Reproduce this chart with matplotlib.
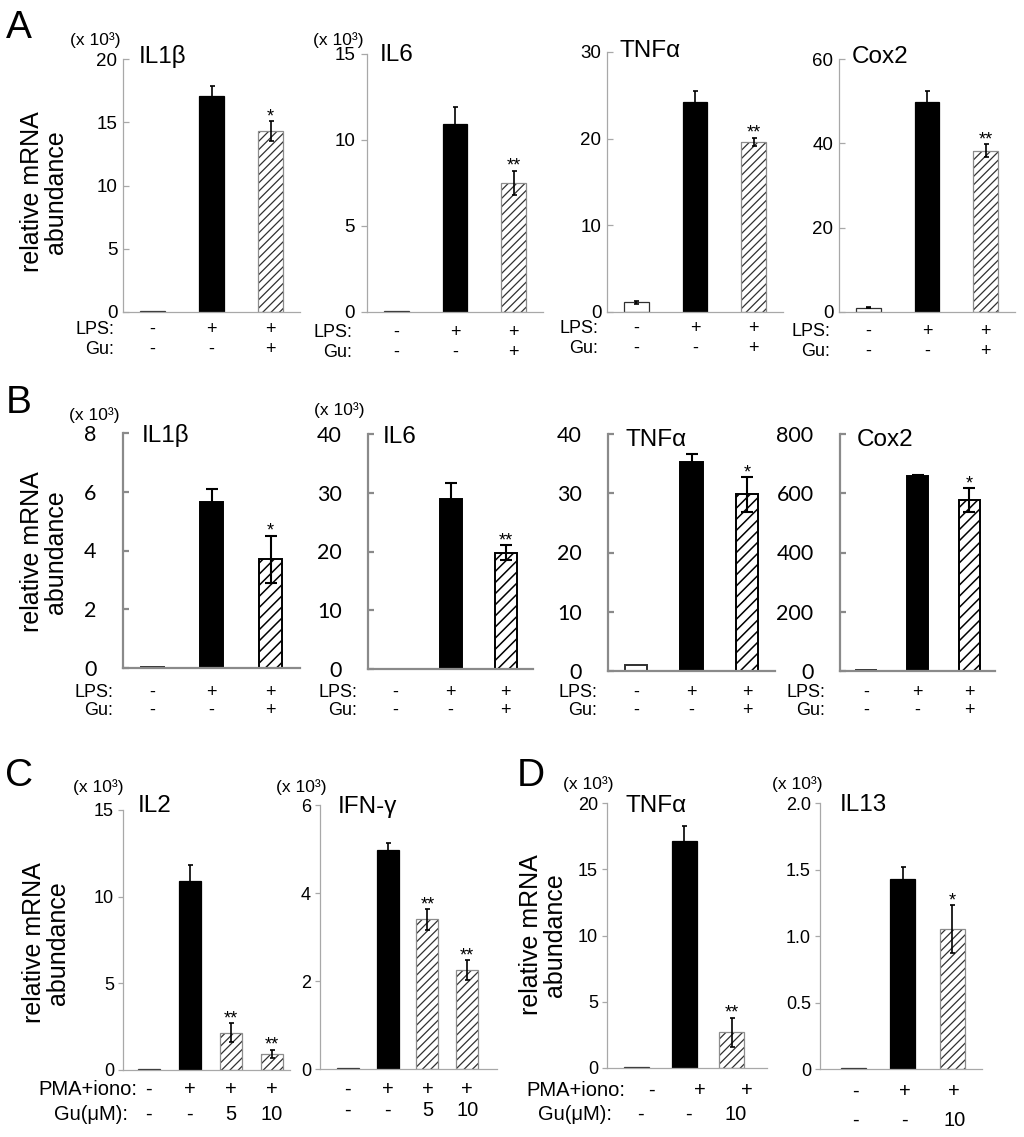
import matplotlib
matplotlib.use("Agg")
import matplotlib.pyplot as plt
from matplotlib.transforms import blended_transform_factory, offset_copy

# ---------------- data (values in the units of each y axis) ----------------
# Panel A: LPS / Gu
A_IL1B_MEAN = [0.05, 17.1, 14.3]
A_IL1B_ERR = [0.0, 0.75, 0.8]
A_IL6_MEAN = [0.07, 10.95, 7.5]
A_IL6_ERR = [0.0, 0.95, 0.7]
A_TNFA_MEAN = [1.1, 24.2, 19.6]
A_TNFA_ERR = [0.12, 1.25, 0.5]
A_COX2_MEAN = [1.0, 49.8, 38.3]
A_COX2_ERR = [0.15, 2.5, 1.5]
A_STARS = [[None, None, "*"], [None, None, "**"], [None, None, "**"], [None, None, "**"]]

# Panel B: LPS / Gu
B_IL1B_MEAN = [0.02, 5.65, 3.7]
B_IL1B_ERR = [0.0, 0.45, 0.8]
B_IL6_MEAN = [0.0, 28.9, 19.8]
B_IL6_ERR = [0.0, 2.7, 1.3]
B_TNFA_MEAN = [0.95, 35.2, 29.8]
B_TNFA_ERR = [0.0, 1.35, 2.9]
B_COX2_MEAN = [2.0, 657.0, 577.0]
B_COX2_ERR = [0.0, 3.0, 40.0]
B_STARS = [[None, None, "*"], [None, None, "**"], [None, None, "*"], [None, None, "*"]]

# Panel C: PMA+iono / Gu(uM)
C_IL2_MEAN = [0.03, 10.9, 2.15, 0.92]
C_IL2_ERR = [0.0, 0.9, 0.55, 0.25]
C_IFNG_MEAN = [0.02, 4.98, 3.4, 2.25]
C_IFNG_ERR = [0.0, 0.15, 0.23, 0.22]
C_STARS = [None, None, "**", "**"]

# Panel D: PMA+iono / Gu(uM)
D_TNFA_MEAN = [0.05, 17.1, 2.7]
D_TNFA_ERR = [0.0, 1.15, 1.1]
D_IL13_MEAN = [0.005, 1.43, 1.05]
D_IL13_ERR = [0.0, 0.09, 0.18]
D_TNFA_STARS = [None, None, "**"]
D_IL13_STARS = [None, None, "*"]

# titles and tick labels
A_TITLES = ["IL1β", "IL6", "TNFα", "Cox2"]
B_TITLES = ["IL1β", "IL6", "TNFα", "Cox2"]
C_TITLES = ["IL2", "IFN-γ"]
D_TITLES = ["TNFα", "IL13"]
A_YTICKS = [[0, 5, 10, 15, 20], [0, 5, 10, 15], [0, 10, 20, 30], [0, 20, 40, 60]]
B_YTICKS = [[0, 2, 4, 6, 8], [0, 10, 20, 30, 40], [0, 10, 20, 30, 40], [0, 200, 400, 600, 800]]
C_YTICKS = [[0, 5, 10, 15], [0, 2, 4, 6]]
D_YTICKS = [[0, 5, 10, 15, 20], [0, 0.5, 1.0, 1.5, 2.0]]
D_IL13_YTICKLABELS = ["0", "0.5", "1.0", "1.5", "2.0"]

LPS_ROW = ["-", "+", "+"]
GU_ROW = ["-", "-", "+"]
C_PMA_ROW = ["-", "+", "+", "+"]
C_GU_ROW = ["-", "-", "5", "10"]
D_PMA_ROW = ["-", "+", "+"]
D_GU_ROW = ["-", "-", "10"]

# ---------------- figure ----------------
W, H = 1024, 1137
plt.rcParams['font.family'] = ['Liberation Sans', 'DejaVu Sans']
fig = plt.figure(figsize=(W / 100, H / 100), dpi=100)


def fx(x):
    return x / W


def fy(y):
    return 1 - y / H


STYLES = {
    'A': dict(spine='#a8a8a8', spw=0.9, tick_font='Liberation Sans', tick_fs=13.5, tick_pad=4,
              hatch='////', hatch_lw=0.9, hatch_ec='#303030', outline='#8c8c8c', bar_lw=0.9,
              err_lw=1.2, cap=1.8, star_fs=13, tick_len=4.5, tick_w=0.9, row_fs=13),
    'B': dict(spine='#8a8a8a', spw=1.6, tick_font='Lato', tick_fs=15.5, tick_pad=19,
              hatch='///', hatch_lw=1.1, hatch_ec='black', outline='black', bar_lw=1.4,
              err_lw=1.5, cap=4.5, star_fs=13, tick_len=4.5, tick_w=1.6, row_fs=13),
    'C': dict(spine='#a8a8a8', spw=0.9, tick_font='Liberation Sans', tick_fs=13, tick_pad=3,
              hatch='////', hatch_lw=0.9, hatch_ec='#303030', outline='#8c8c8c', bar_lw=0.9,
              err_lw=1.2, cap=1.8, star_fs=13, tick_len=3.5, tick_w=0.9, row_fs=14.5),
}


def panel(box, xlim, width, means, errs, stars, yticks, title, title_xy, style,
          tick_dir='in', yticklabels=None, rows=None):
    st = STYLES[style]
    x0, x1, ytop, ybot = box
    ax = fig.add_axes([fx(x0), fy(ybot), (x1 - x0) / W, (ybot - ytop) / H])
    ax.set_facecolor('none')
    ax.set_xlim(*xlim)
    ax.set_ylim(0, yticks[-1])
    for sp in ('top', 'right'):
        ax.spines[sp].set_visible(False)
    for sp in ('left', 'bottom'):
        ax.spines[sp].set_color(st['spine'])
        ax.spines[sp].set_linewidth(st['spw'])
    ax.set_xticks([])
    ax.set_yticks(yticks)
    ax.set_yticklabels(yticklabels if yticklabels else [str(t) for t in yticks],
                       fontfamily=st['tick_font'], fontsize=st['tick_fs'])
    ax.tick_params(axis='y', direction=tick_dir, length=st['tick_len'], width=st['tick_w'],
                   color=st['spine'], pad=st['tick_pad'])
    n = len(means)
    for i in range(n):
        m, e = means[i], errs[i]
        if i == 0:
            ax.bar(i, m, width=width, color='white', edgecolor='#303030',
                   linewidth=st['bar_lw'], zorder=2)
        elif i == 1:
            ax.bar(i, m, width=width, color='black', edgecolor='black',
                   linewidth=st['bar_lw'], zorder=2)
        else:
            bars = ax.bar(i, m, width=width, color='white', edgecolor=st['hatch_ec'],
                          hatch=st['hatch'], linewidth=0, zorder=2)
            for p in bars:
                if hasattr(p, 'set_hatch_linewidth'):
                    p.set_hatch_linewidth(st['hatch_lw'])
            ax.bar(i, m, width=width, color='none', edgecolor=st['outline'],
                   linewidth=st['bar_lw'], zorder=2.5)
        if e > 0:
            ax.errorbar(i, m, yerr=e, fmt='none', ecolor='black', elinewidth=st['err_lw'],
                        capsize=st['cap'], capthick=st['err_lw'], zorder=3, clip_on=False)
        if stars[i]:
            ax.annotate(stars[i], (i, m + e), xytext=(0, 0), textcoords='offset points',
                        ha='center', va='baseline', fontsize=st['star_fs'],
                        annotation_clip=False)
    fig.text(fx(title_xy[0]), fy(title_xy[1]), title, ha='left', va='baseline', fontsize=17.5)
    if rows:
        for (labels, ybase, row_label, label_right, dx) in rows:
            tr = offset_copy(blended_transform_factory(ax.transData, fig.transFigure),
                             fig=fig, x=dx, y=0, units='dots')
            for i, s in enumerate(labels):
                ax.text(i, fy(ybase), s, transform=tr, ha='center', va='baseline',
                        fontsize=st['row_fs'], clip_on=False)
            if row_label:
                fig.text(fx(label_right), fy(ybase), row_label, ha='right', va='baseline',
                         fontsize=st['row_fs'])
    return ax


# ---------------- row A ----------------
A_MEANS = [A_IL1B_MEAN, A_IL6_MEAN, A_TNFA_MEAN, A_COX2_MEAN]
A_ERRS = [A_IL1B_ERR, A_IL6_ERR, A_TNFA_ERR, A_COX2_ERR]
A_BOX = [(123, 300, 59, 312), (367, 543, 54, 312), (607, 783, 52, 312), (839, 1015, 59, 312)]
A_TXY = [(139, 63), (380, 61), (620, 57), (852, 63)]
A_ROWY = [(334, 354), (337, 357), (333, 353), (336, 356)]
A_LBLX = [114, 352, 598, 830]
A_DIR = ['in', 'out', 'in', 'in']
for k in range(4):
    panel(A_BOX[k], (-0.5, 2.5), 0.42, A_MEANS[k], A_ERRS[k], A_STARS[k], A_YTICKS[k],
          A_TITLES[k], A_TXY[k], 'A', tick_dir=A_DIR[k],
          rows=[(LPS_ROW, A_ROWY[k][0], "LPS:", A_LBLX[k], 0),
                (GU_ROW, A_ROWY[k][1], "Gu:", A_LBLX[k], 0)])

# ---------------- row B ----------------
B_MEANS = [B_IL1B_MEAN, B_IL6_MEAN, B_TNFA_MEAN, B_COX2_MEAN]
B_ERRS = [B_IL1B_ERR, B_IL6_ERR, B_TNFA_ERR, B_COX2_ERR]
B_BOX = [(123, 300, 433, 668), (368, 533, 434, 669), (608, 775, 434, 671), (840, 995, 434, 671)]
B_TXY = [(142, 442), (383, 443), (625, 446), (857, 446)]
B_LBLX = [113, 357, 597, 825]
for k in range(4):
    panel(B_BOX[k], (-0.5, 2.5), 0.4, B_MEANS[k], B_ERRS[k], B_STARS[k], B_YTICKS[k],
          B_TITLES[k], B_TXY[k], 'B', tick_dir='in',
          rows=[(LPS_ROW, 697, "LPS:", B_LBLX[k], 0),
                (GU_ROW, 715, "Gu:", B_LBLX[k], 0)])

# ---------------- row C ----------------
panel((123, 290, 810, 1070), (-0.63, 3.44), 0.54, C_IL2_MEAN, C_IL2_ERR, C_STARS, C_YTICKS[0],
      C_TITLES[0], (138, 812), 'C', tick_dir='out',
      rows=[(C_PMA_ROW, 1095, "PMA+iono:", 137, 0),
            (C_GU_ROW, 1120, "Gu(μM):", 128, 0)])
panel((320, 497, 805, 1069), (-0.7, 3.75), 0.55, C_IFNG_MEAN, C_IFNG_ERR, C_STARS, C_YTICKS[1],
      C_TITLES[1], (338, 813), 'C', tick_dir='out',
      rows=[(C_PMA_ROW, 1095, None, 0, 0),
            (C_GU_ROW, 1116, None, 0, 0)])

# ---------------- row D ----------------
panel((607, 767, 803, 1068), (-0.63, 2.74), 0.53, D_TNFA_MEAN, D_TNFA_ERR, D_TNFA_STARS,
      D_YTICKS[0], D_TITLES[0], (625, 812), 'C', tick_dir='out',
      rows=[(D_PMA_ROW, 1096, "PMA+iono:", 625, 15),
            (D_GU_ROW, 1120, "Gu(μM):", 612, 4)])
panel((820, 982, 803, 1069), (-0.67, 2.6), 0.5, D_IL13_MEAN, D_IL13_ERR, D_IL13_STARS,
      D_YTICKS[1], D_TITLES[1], (840, 811), 'C', tick_dir='out',
      yticklabels=D_IL13_YTICKLABELS,
      rows=[(D_PMA_ROW, 1097, None, 0, 2),
            (D_GU_ROW, 1126, None, 0, 2)])

# ---------------- shared labels ----------------
YLAB = "relative mRNA\nabundance"
for (x, y) in [(44, 192), (44, 552), (46, 943), (543, 935)]:
    fig.text(fx(x), fy(y), YLAB, rotation=90, ha='center', va='center', fontsize=18,
             multialignment='center', linespacing=1.0)

for (x, y) in [(95, 40), (338, 40), (94, 415), (339, 410), (98, 787), (301, 787),
               (588, 784), (797, 784)]:
    fig.text(fx(x), fy(y), "(x 10³)", ha='center', va='center', fontsize=12.5)

for (lbl, x, y) in [("A", 19, 28), ("B", 19, 403), ("C", 19, 776), ("D", 531, 776)]:
    fig.text(fx(x), fy(y), lbl, ha='center', va='center', fontsize=28)

fig.savefig("out.png", dpi=100)
